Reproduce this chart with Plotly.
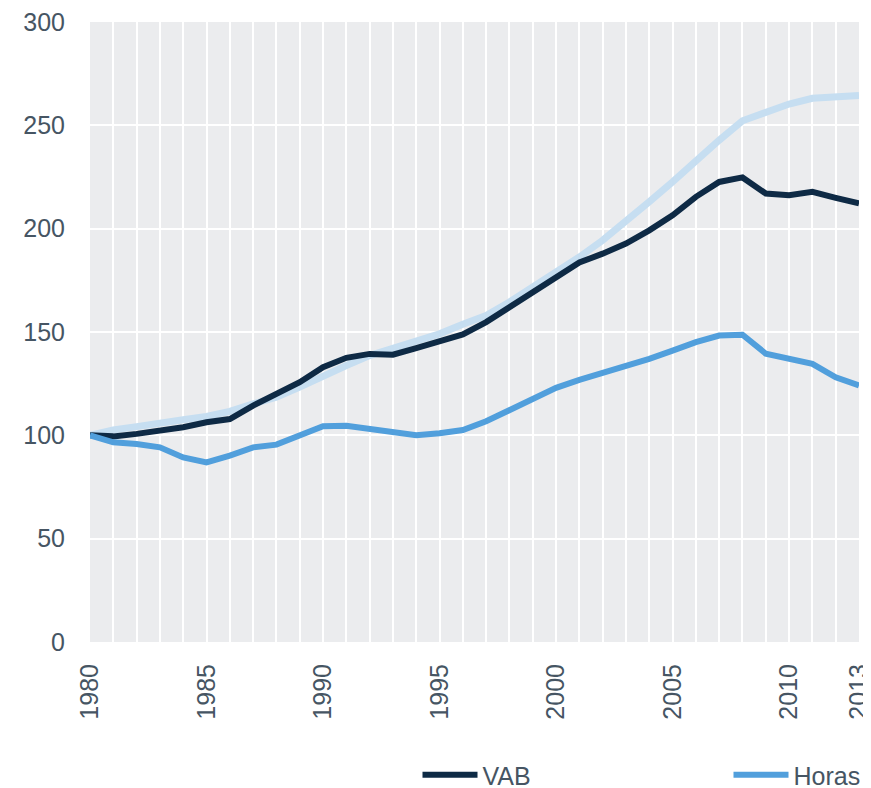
import plotly.graph_objects as go

years = list(range(1980, 2014))

vab = [100, 99.5, 100.7, 102.3, 103.9, 106.3, 107.9, 114.4, 120.0, 125.7,
       133.0, 137.5, 139.4, 139.0, 142.2, 145.6, 148.8, 154.8, 162.0, 168.8,
       176.6, 183.6, 187.9, 192.8, 199.2, 206.5, 215.4, 222.6, 224.8, 217.0,
       216.2, 217.8, 214.9, 212.2]

horas = [100, 96.6, 95.8, 94.2, 89.3, 86.9, 90.2, 94.2, 95.5, 99.9,
         104.4, 104.6, 103.1, 101.0, 100.0, 101.0, 102.6, 106.8, 112.0, 117.5,
         123.0, 126.8, 130.0, 133.3, 137.0, 141.0, 145.1, 148.3, 148.7, 139.5,
         136.7, 134.6, 128.1, 124.1]

capital = [100, 102.6, 104.2, 106.2, 107.5, 109.1, 111.6, 115.2, 118.4, 123.3,
           128.9, 133.8, 138.6, 141.9, 145.1, 149.1, 153.7, 158.0, 164.5, 171.7,
           178.2, 186.3, 194.4, 203.3, 213.0, 222.6, 233.2, 242.8, 252.2, 256.6,
           260.3, 263.1, 264.2, 264.5]

x_tickvals = [1980, 1985, 1990, 1995, 2000, 2005, 2010, 2013]
y_tickvals = [0, 50, 100, 150, 200, 250, 300]

FONT = "Liberation Sans, Arial, sans-serif"
TXT = "#465563"

W, H = 863, 780

fig = go.Figure()
fig.add_trace(go.Scatter(x=years, y=capital, mode="lines", name="Stock de capital",
                         line=dict(color="#c6def1", width=7), showlegend=False))
fig.add_trace(go.Scatter(x=years, y=vab, mode="lines", name="VAB",
                         line=dict(color="#0e2a45", width=6)))
fig.add_trace(go.Scatter(x=years, y=horas, mode="lines", name="Horas trabajadas",
                         line=dict(color="#519fdc", width=6)))

fig.update_layout(
    width=W, height=H,
    margin=dict(l=81.5, r=12, t=13.7, b=146.3, autoexpand=False),
    paper_bgcolor="white",
    plot_bgcolor="#ebecee",
    font=dict(family=FONT, size=25, color=TXT),
    showlegend=True,
    legend=dict(
        orientation="h",
        xref="container", yref="container",
        x=409.5 / W, xanchor="left",
        y=13 / H, yanchor="middle",
        itemwidth=55,
        entrywidth=241,
        font=dict(family=FONT, size=25, color=TXT),
        bgcolor="rgba(0,0,0,0)",
        traceorder="normal",
    ),
    xaxis=dict(
        range=[1980, 2013],
        tickmode="array", tickvals=x_tickvals,
        ticktext=[str(v) for v in x_tickvals],
        tickangle=-90,
        showgrid=False,
        zeroline=False, showline=False,
        ticks="", ticklabelstandoff=16,
        ticklabeloverflow="allow",
        tickfont=dict(size=25, color=TXT),
        minor=dict(dtick=1, tick0=1980, showgrid=True, gridcolor="white", gridwidth=2),
    ),
    yaxis=dict(
        range=[0, 300],
        tickmode="array", tickvals=y_tickvals,
        showgrid=True, gridcolor="white", gridwidth=2,
        zeroline=False, showline=False,
        ticks="", ticklabelstandoff=24,
        ticklabeloverflow="allow",
        tickfont=dict(size=25, color=TXT),
    ),
)

fig.write_html("out.html")
